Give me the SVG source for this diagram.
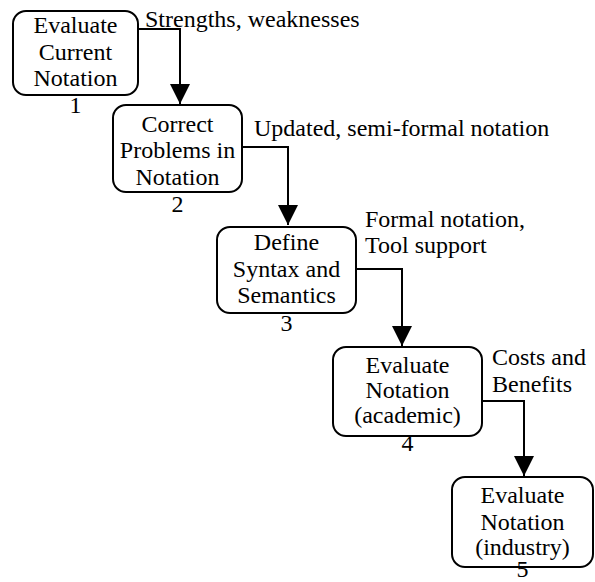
<svg xmlns="http://www.w3.org/2000/svg" width="595" height="582" viewBox="0 0 595 582">
<style>
.box{fill:#fff;stroke:#000;stroke-width:2}
.t{font-family:'Liberation Serif','Times New Roman',serif;font-size:24px;fill:#000}
.c{text-anchor:middle}
.ln{fill:none;stroke:#000;stroke-width:2}
</style>
<defs>
<marker id="ah" markerUnits="userSpaceOnUse" markerWidth="20" markerHeight="20" refX="20" refY="10" orient="auto" viewBox="0 0 20 20">
<path d="M0,0 L20,10 L0,20 z" fill="#000"/>
</marker>
</defs>
<rect width="595" height="582" fill="#fff"/>
<g id="connectors">
<path class="ln" d="M138,29 H180 V104" marker-end="url(#ah)"/>
<path class="ln" d="M242,147 H288 V225" marker-end="url(#ah)"/>
<path class="ln" d="M356,269 H402 V346" marker-end="url(#ah)"/>
<path class="ln" d="M482,401 H524 V476" marker-end="url(#ah)"/>
<text class="t" x="145" y="27">Strengths, weaknesses</text>
<text class="t" x="254" y="136">Updated, semi-formal notation</text>
<text class="t" x="365" y="227">Formal notation,</text>
<text class="t" x="365" y="253">Tool support</text>
<text class="t" x="492" y="365">Costs and</text>
<text class="t" x="492" y="392">Benefits</text>
</g>
<g id="n1">
<rect class="box" x="13" y="11" width="125" height="84" rx="13"/>
<text class="t c" x="75.5" y="33">Evaluate</text>
<text class="t c" x="75.5" y="60">Current</text>
<text class="t c" x="75.5" y="86">Notation</text>
<text class="t c" x="75.5" y="113">1</text>
</g>
<g id="n2">
<rect class="box" x="113" y="105" width="129" height="87" rx="13"/>
<text class="t c" x="177.5" y="132">Correct</text>
<text class="t c" x="177.5" y="158">Problems in</text>
<text class="t c" x="177.5" y="185">Notation</text>
<text class="t c" x="177.5" y="212">2</text>
</g>
<g id="n3">
<rect class="box" x="217" y="227" width="139" height="86" rx="13"/>
<text class="t c" x="286.5" y="250">Define</text>
<text class="t c" x="286.5" y="277">Syntax and</text>
<text class="t c" x="286.5" y="303">Semantics</text>
<text class="t c" x="286.5" y="331">3</text>
</g>
<g id="n4">
<rect class="box" x="333" y="347" width="149" height="89" rx="13"/>
<text class="t c" x="407.5" y="373">Evaluate</text>
<text class="t c" x="407.5" y="398">Notation</text>
<text class="t c" x="407.5" y="423">(academic)</text>
<text class="t c" x="407.5" y="451">4</text>
</g>
<g id="n5">
<rect class="box" x="452" y="477" width="141" height="90" rx="13"/>
<text class="t c" x="522.5" y="503">Evaluate</text>
<text class="t c" x="522.5" y="530">Notation</text>
<text class="t c" x="522.5" y="555">(industry)</text>
<text class="t c" x="522.5" y="577">5</text>
</g>
</svg>
